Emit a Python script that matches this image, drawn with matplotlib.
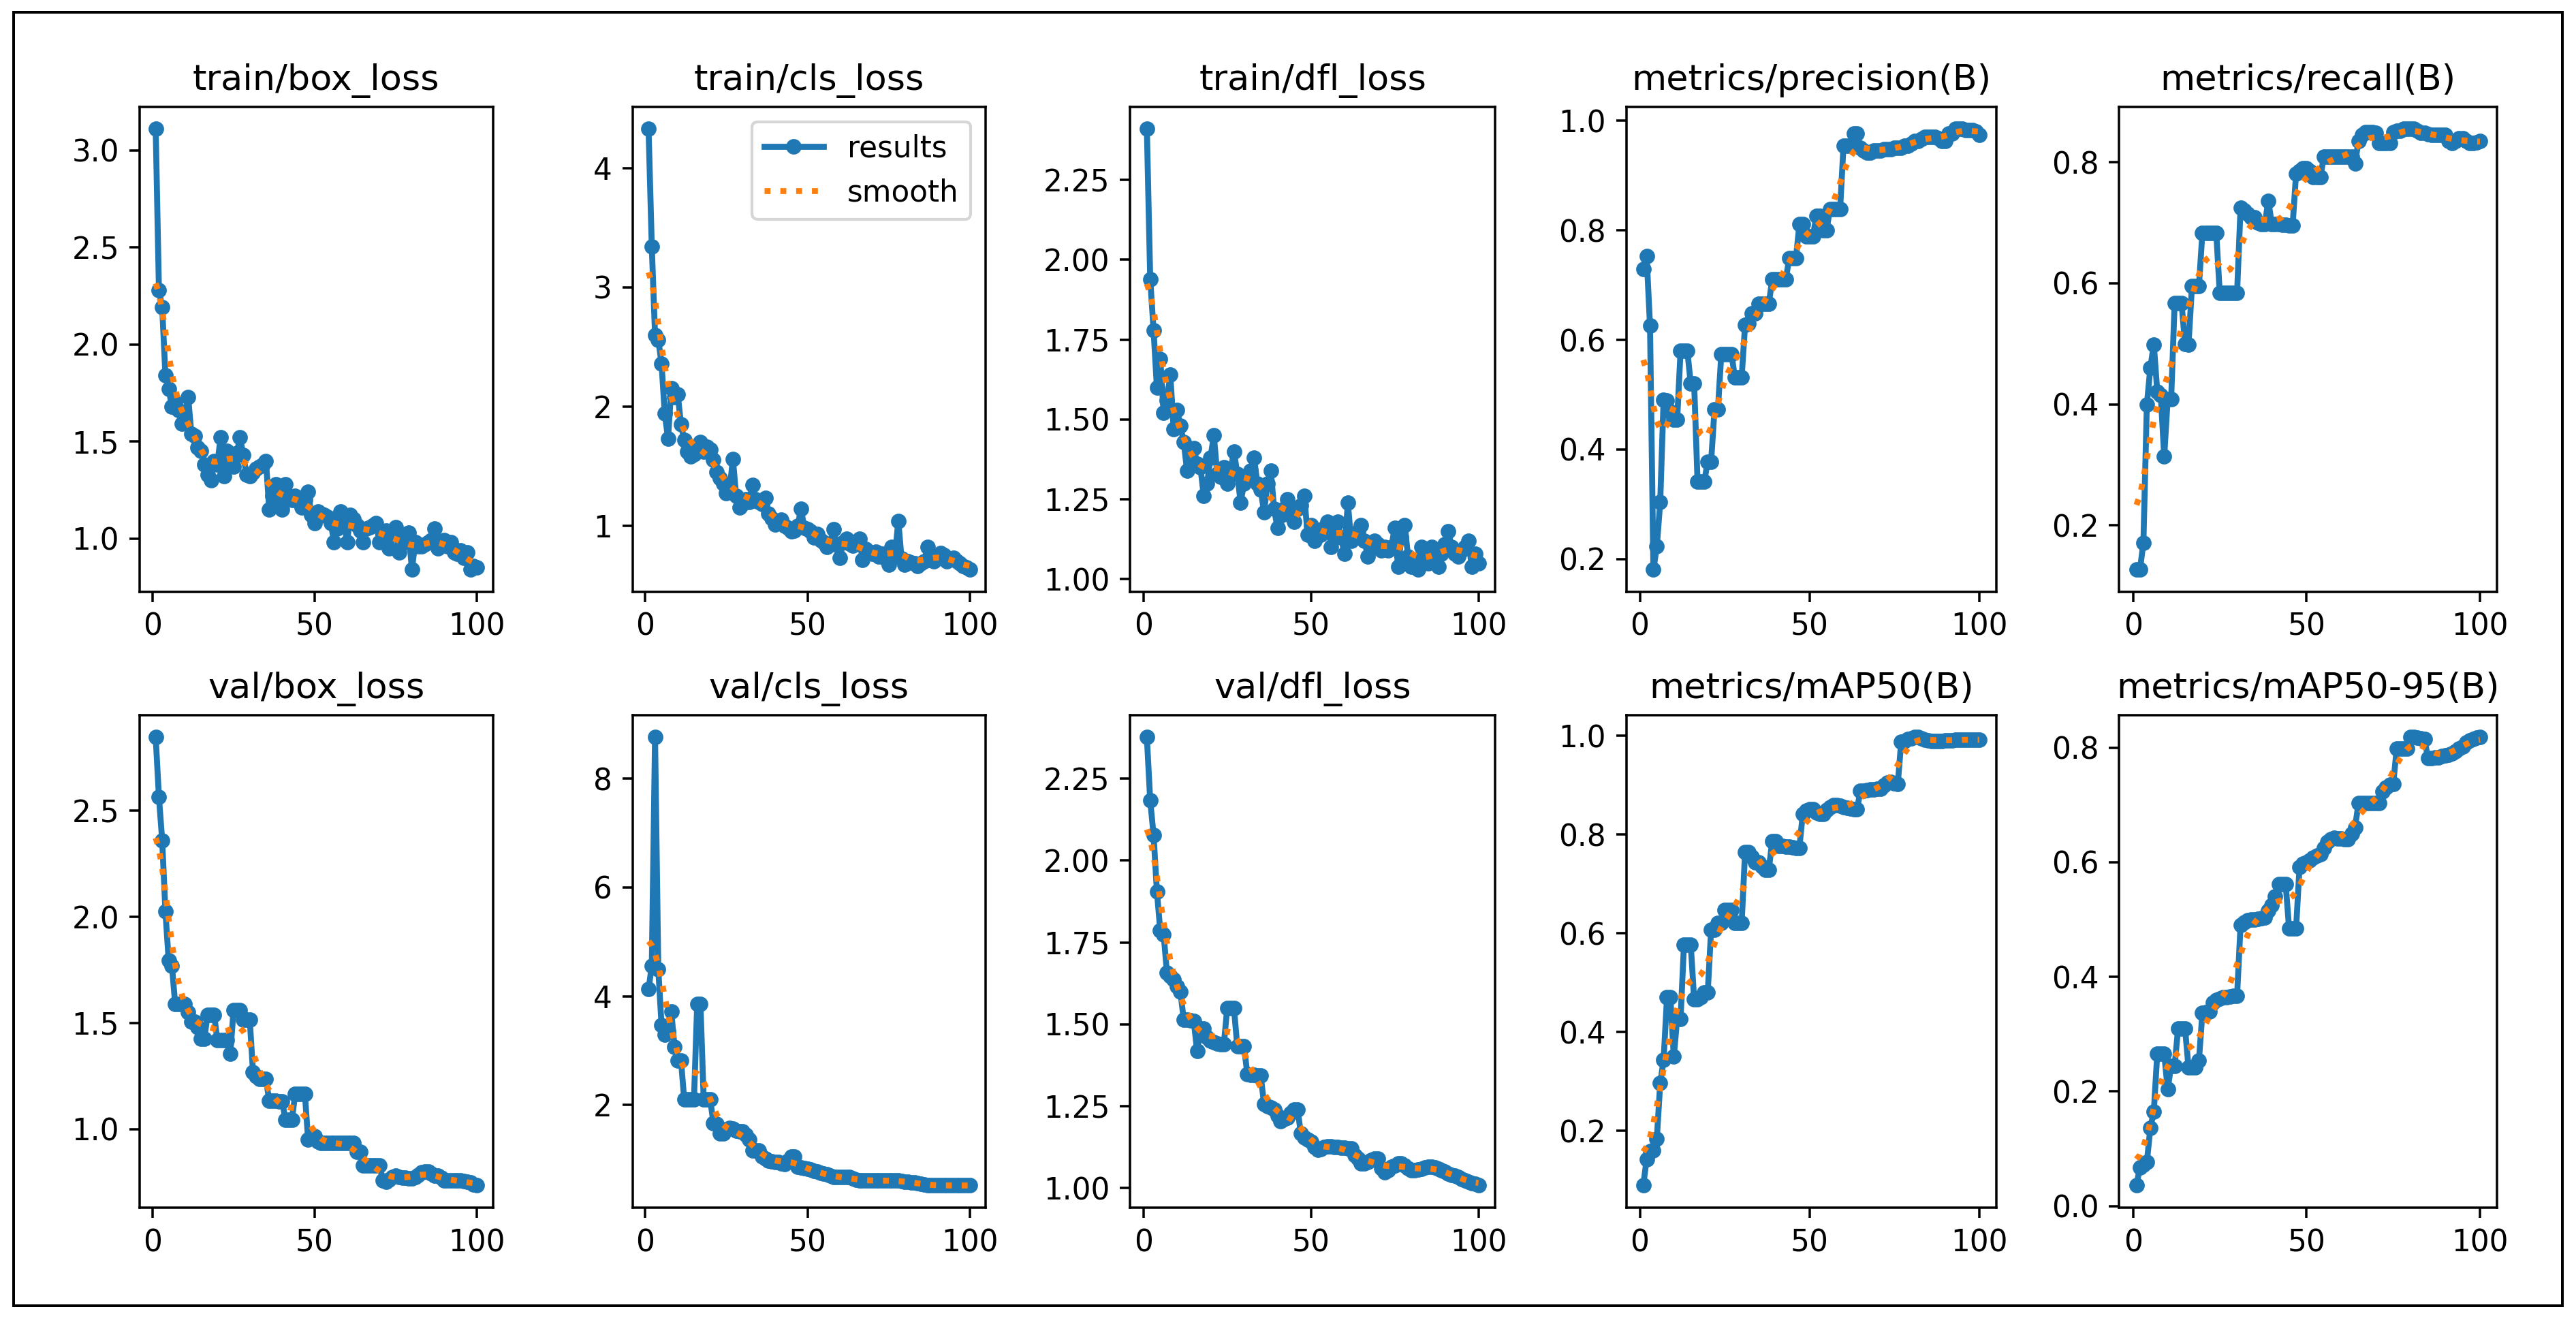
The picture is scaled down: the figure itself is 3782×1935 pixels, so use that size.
import numpy as np
import matplotlib
matplotlib.use("Agg")
import matplotlib.pyplot as plt
from matplotlib.patches import Rectangle
from matplotlib.ticker import MultipleLocator

titles = ["train/box_loss", "train/cls_loss", "train/dfl_loss", "metrics/precision(B)", "metrics/recall(B)",
          "val/box_loss", "val/cls_loss", "val/dfl_loss", "metrics/mAP50(B)", "metrics/mAP50-95(B)"]

train_box_loss = [3.11, 2.28, 2.19, 1.84, 1.77, 1.68, 1.70, 1.66, 1.59, 1.62,
                  1.73, 1.54, 1.53, 1.47, 1.45, 1.38, 1.33, 1.30, 1.40, 1.38,
                  1.52, 1.32, 1.45, 1.40, 1.37, 1.44, 1.52, 1.43, 1.33, 1.32,
                  1.34, 1.36, 1.37, 1.38, 1.40, 1.15, 1.22, 1.28, 1.20, 1.15,
                  1.28, 1.22, 1.20, 1.22, 1.19, 1.16, 1.20, 1.24, 1.12, 1.08,
                  1.14, 1.13, 1.12, 1.11, 1.08, 0.98, 1.05, 1.14, 1.10, 0.98,
                  1.12, 1.10, 1.07, 1.04, 0.98, 1.05, 1.06, 1.07, 1.08, 0.98,
                  1.02, 1.04, 0.95, 1.02, 1.06, 0.93, 1.00, 0.98, 1.03, 0.84,
                  0.98, 0.96, 0.96, 0.97, 0.98, 0.99, 1.05, 0.95, 0.97, 0.99,
                  0.96, 0.98, 0.93, 0.92, 0.94, 0.90, 0.93, 0.84, 0.86, 0.85]

train_cls_loss = [4.33, 3.34, 2.60, 2.56, 2.36, 1.94, 1.73, 2.15, 2.08, 2.10,
                  1.85, 1.72, 1.62, 1.58, 1.60, 1.66, 1.70, 1.62, 1.66, 1.64,
                  1.55, 1.45, 1.40, 1.35, 1.27, 1.30, 1.56, 1.25, 1.15, 1.18,
                  1.22, 1.20, 1.34, 1.22, 1.20, 1.18, 1.23, 1.10, 1.06, 1.01,
                  1.03, 1.05, 1.00, 0.98, 0.95, 0.96, 1.00, 1.14, 0.98, 0.97,
                  0.95, 0.90, 0.93, 0.88, 0.86, 0.82, 0.85, 0.97, 0.84, 0.73,
                  0.86, 0.89, 0.85, 0.83, 0.86, 0.89, 0.71, 0.80, 0.78, 0.76,
                  0.78, 0.74, 0.76, 0.72, 0.67, 0.82, 0.75, 1.04, 0.72, 0.67,
                  0.70, 0.69, 0.68, 0.66, 0.68, 0.70, 0.82, 0.71, 0.70, 0.74,
                  0.77, 0.75, 0.70, 0.72, 0.73, 0.70, 0.68, 0.66, 0.65, 0.63]

train_dfl_loss = [2.41, 1.94, 1.78, 1.60, 1.69, 1.52, 1.56, 1.64, 1.47, 1.53,
                  1.48, 1.43, 1.34, 1.38, 1.41, 1.36, 1.35, 1.26, 1.30, 1.38,
                  1.45, 1.33, 1.32, 1.35, 1.30, 1.34, 1.40, 1.33, 1.24, 1.30,
                  1.32, 1.34, 1.38, 1.30, 1.28, 1.21, 1.30, 1.34, 1.22, 1.16,
                  1.20, 1.22, 1.25, 1.20, 1.18, 1.22, 1.23, 1.26, 1.14, 1.17,
                  1.12, 1.15, 1.14, 1.16, 1.18, 1.10, 1.14, 1.18, 1.13, 1.08,
                  1.24, 1.12, 1.13, 1.15, 1.17, 1.12, 1.07, 1.10, 1.12, 1.11,
                  1.09, 1.10, 1.09, 1.10, 1.16, 1.04, 1.13, 1.17, 1.07, 1.04,
                  1.06, 1.03, 1.10, 1.06, 1.05, 1.10, 1.07, 1.04, 1.08, 1.11,
                  1.15, 1.10, 1.08, 1.07, 1.09, 1.10, 1.12, 1.04, 1.08, 1.05]

precision = [0.729, 0.753, 0.626, 0.181, 0.223, 0.304, 0.491, 0.490, 0.470, 0.455,
             0.455, 0.580, 0.580, 0.580, 0.520, 0.520, 0.342, 0.342, 0.342, 0.378,
             0.378, 0.473, 0.473, 0.574, 0.574, 0.574, 0.574, 0.532, 0.532, 0.532,
             0.627, 0.630, 0.648, 0.648, 0.666, 0.666, 0.666, 0.666, 0.710, 0.710,
             0.710, 0.710, 0.710, 0.749, 0.749, 0.749, 0.811, 0.811, 0.789, 0.789,
             0.789, 0.826, 0.826, 0.800, 0.800, 0.838, 0.838, 0.838, 0.838, 0.954,
             0.954, 0.954, 0.977, 0.977, 0.950, 0.945, 0.942, 0.942, 0.945, 0.945,
             0.945, 0.948, 0.948, 0.948, 0.950, 0.950, 0.950, 0.954, 0.954, 0.958,
             0.963, 0.963, 0.967, 0.970, 0.970, 0.970, 0.970, 0.968, 0.963, 0.963,
             0.977, 0.977, 0.985, 0.985, 0.985, 0.983, 0.983, 0.983, 0.980, 0.974]

recall = [0.127, 0.127, 0.171, 0.400, 0.460, 0.499, 0.421, 0.415, 0.314, 0.409,
          0.409, 0.567, 0.567, 0.567, 0.500, 0.499, 0.595, 0.595, 0.595, 0.683,
          0.683, 0.683, 0.683, 0.683, 0.584, 0.584, 0.584, 0.584, 0.584, 0.584,
          0.725, 0.720, 0.715, 0.709, 0.709, 0.700, 0.698, 0.698, 0.736, 0.698,
          0.698, 0.698, 0.697, 0.696, 0.695, 0.695, 0.781, 0.785, 0.790, 0.790,
          0.785, 0.775, 0.775, 0.775, 0.809, 0.809, 0.809, 0.809, 0.809, 0.809,
          0.809, 0.809, 0.809, 0.798, 0.835, 0.845, 0.850, 0.850, 0.850, 0.848,
          0.832, 0.832, 0.832, 0.832, 0.850, 0.852, 0.852, 0.855, 0.855, 0.855,
          0.855, 0.852, 0.848, 0.848, 0.846, 0.845, 0.845, 0.845, 0.845, 0.845,
          0.835, 0.832, 0.835, 0.840, 0.840, 0.835, 0.832, 0.832, 0.833, 0.835]

val_box_loss = [2.846, 2.564, 2.360, 2.025, 1.794, 1.770, 1.590, 1.590, 1.590, 1.590,
                1.550, 1.507, 1.507, 1.480, 1.427, 1.427, 1.539, 1.539, 1.539, 1.420,
                1.420, 1.420, 1.420, 1.355, 1.560, 1.560, 1.560, 1.515, 1.515, 1.515,
                1.268, 1.250, 1.236, 1.236, 1.236, 1.132, 1.132, 1.132, 1.130, 1.130,
                1.045, 1.045, 1.045, 1.164, 1.164, 1.164, 1.164, 0.949, 0.960, 0.965,
                0.940, 0.933, 0.933, 0.933, 0.933, 0.933, 0.933, 0.933, 0.933, 0.933,
                0.933, 0.933, 0.893, 0.893, 0.830, 0.830, 0.830, 0.830, 0.830, 0.830,
                0.758, 0.750, 0.760, 0.775, 0.780, 0.775, 0.770, 0.770, 0.766, 0.766,
                0.775, 0.785, 0.795, 0.800, 0.800, 0.790, 0.780, 0.780, 0.770, 0.758,
                0.758, 0.758, 0.758, 0.758, 0.758, 0.755, 0.750, 0.747, 0.740, 0.734]

val_cls_loss = [4.13, 4.56, 8.76, 4.50, 3.47, 3.29, 3.35, 3.72, 3.07, 2.82,
                2.82, 2.10, 2.10, 2.10, 2.10, 3.86, 3.86, 2.10, 2.10, 2.10,
                1.67, 1.65, 1.48, 1.48, 1.55, 1.58, 1.56, 1.53, 1.51, 1.51,
                1.45, 1.36, 1.17, 1.17, 1.17, 1.05, 1.02, 0.98, 0.96, 0.95,
                0.95, 0.93, 0.92, 0.98, 1.05, 1.05, 0.86, 0.85, 0.84, 0.83,
                0.81, 0.79, 0.77, 0.75, 0.74, 0.72, 0.70, 0.67, 0.67, 0.67,
                0.67, 0.67, 0.67, 0.65, 0.63, 0.61, 0.61, 0.61, 0.61, 0.61,
                0.61, 0.61, 0.61, 0.61, 0.61, 0.61, 0.61, 0.61, 0.60, 0.59,
                0.585, 0.58, 0.57, 0.56, 0.55, 0.54, 0.53, 0.525, 0.52, 0.52,
                0.52, 0.52, 0.52, 0.52, 0.52, 0.52, 0.52, 0.52, 0.52, 0.52]

val_dfl_loss = [2.376, 2.183, 2.078, 1.905, 1.786, 1.775, 1.657, 1.647, 1.637, 1.616,
                1.600, 1.515, 1.515, 1.513, 1.511, 1.418, 1.487, 1.487, 1.460, 1.449,
                1.445, 1.442, 1.440, 1.440, 1.550, 1.550, 1.550, 1.433, 1.433, 1.433,
                1.348, 1.346, 1.345, 1.344, 1.343, 1.256, 1.250, 1.245, 1.240, 1.220,
                1.204, 1.210, 1.214, 1.230, 1.240, 1.240, 1.166, 1.155, 1.148, 1.142,
                1.125, 1.116, 1.120, 1.125, 1.127, 1.127, 1.126, 1.125, 1.124, 1.123,
                1.122, 1.122, 1.101, 1.090, 1.075, 1.075, 1.080, 1.085, 1.090, 1.090,
                1.060, 1.049, 1.055, 1.065, 1.070, 1.075, 1.075, 1.070, 1.060, 1.055,
                1.055, 1.056, 1.058, 1.062, 1.065, 1.065, 1.062, 1.058, 1.055, 1.050,
                1.045, 1.040, 1.039, 1.033, 1.028, 1.024, 1.020, 1.016, 1.013, 1.008]

map50 = [0.089, 0.142, 0.159, 0.160, 0.183, 0.296, 0.343, 0.470, 0.470, 0.350,
         0.427, 0.427, 0.577, 0.577, 0.577, 0.466, 0.466, 0.470, 0.480, 0.480,
         0.607, 0.607, 0.621, 0.621, 0.647, 0.647, 0.647, 0.621, 0.621, 0.621,
         0.764, 0.764, 0.755, 0.744, 0.744, 0.735, 0.729, 0.729, 0.787, 0.787,
         0.777, 0.777, 0.775, 0.775, 0.774, 0.773, 0.773, 0.842, 0.848, 0.852,
         0.852, 0.845, 0.842, 0.842, 0.850, 0.855, 0.859, 0.859, 0.858, 0.856,
         0.854, 0.853, 0.852, 0.852, 0.889, 0.889, 0.890, 0.891, 0.892, 0.893,
         0.893, 0.900, 0.905, 0.906, 0.904, 0.903, 0.988, 0.990, 0.993, 0.995,
         0.997, 0.997, 0.995, 0.992, 0.991, 0.990, 0.990, 0.990, 0.990, 0.991,
         0.991, 0.991, 0.992, 0.992, 0.992, 0.992, 0.992, 0.992, 0.992, 0.992]

map50_95 = [0.036, 0.068, 0.072, 0.077, 0.136, 0.165, 0.266, 0.266, 0.266, 0.204,
            0.245, 0.245, 0.310, 0.310, 0.310, 0.242, 0.242, 0.242, 0.254, 0.337,
            0.338, 0.340, 0.355, 0.360, 0.362, 0.364, 0.365, 0.366, 0.367, 0.367,
            0.490, 0.495, 0.499, 0.500, 0.500, 0.501, 0.502, 0.503, 0.515, 0.525,
            0.540, 0.562, 0.562, 0.562, 0.484, 0.484, 0.484, 0.592, 0.597, 0.600,
            0.603, 0.608, 0.612, 0.614, 0.625, 0.635, 0.640, 0.643, 0.642, 0.641,
            0.640, 0.640, 0.650, 0.661, 0.703, 0.703, 0.703, 0.703, 0.703, 0.703,
            0.703, 0.723, 0.730, 0.735, 0.737, 0.798, 0.798, 0.798, 0.798, 0.818,
            0.818, 0.817, 0.816, 0.815, 0.782, 0.782, 0.783, 0.783, 0.785, 0.787,
            0.788, 0.790, 0.794, 0.798, 0.802, 0.809, 0.812, 0.815, 0.817, 0.818]

series = [train_box_loss, train_cls_loss, train_dfl_loss, precision, recall,
          val_box_loss, val_cls_loss, val_dfl_loss, map50, map50_95]


def gaussian_smooth(y, sigma=3.0, truncate=4.0):
    y = np.asarray(y, dtype=float)
    r = int(truncate * sigma + 0.5)
    k = np.arange(-r, r + 1)
    w = np.exp(-0.5 * (k / sigma) ** 2)
    w /= w.sum()
    yp = np.pad(y, r, mode="symmetric")
    return np.convolve(yp, w, mode="valid")


W, H, DPI = 3782, 1935, 300
fig = plt.figure(figsize=(W / DPI, H / DPI), dpi=DPI)

S = 1.05
plt.rcParams["font.family"] = ["DejaVu Sans"]

lefts = [85, 385, 688, 990, 1290]
rights = [300, 600, 910, 1215, 1520]
tops = [65, 435]
bottoms = [360, 735]
RW, RH = 1568.0, 802.0

for i, (t, y) in enumerate(zip(titles, series)):
    r, c = divmod(i, 5)
    l = lefts[c] / RW
    w = (rights[c] - lefts[c]) / RW
    b = 1 - bottoms[r] / RH
    h = (bottoms[r] - tops[r]) / RH
    ax = fig.add_axes([l, b, w, h])
    x = np.arange(1, len(y) + 1)
    ax.plot(x, y, marker=".", label="results", linewidth=2 * S, markersize=8.5 * S, color="#1f77b4")
    ax.plot(x, gaussian_smooth(y), ":", label="smooth", linewidth=2 * S, color="#ff7f0e")
    ax.set_title(t, fontsize=12 * S)
    ax.tick_params(labelsize=10 * S, length=3.5 * S, width=0.8 * S)
    ax.xaxis.set_major_locator(MultipleLocator(50))
    if "dfl" in t:
        ax.yaxis.set_major_locator(MultipleLocator(0.25))
    for sp in ax.spines.values():
        sp.set_linewidth(0.8 * S)
    if i == 1:
        ax.legend(fontsize=10 * S)

fig.patches.append(Rectangle((20 / W, 18 / H), 1 - 40 / W, 1 - 36 / H, transform=fig.transFigure,
                             fill=False, edgecolor="black", linewidth=4 * 72 / DPI))

fig.savefig("out.png", dpi=DPI)
